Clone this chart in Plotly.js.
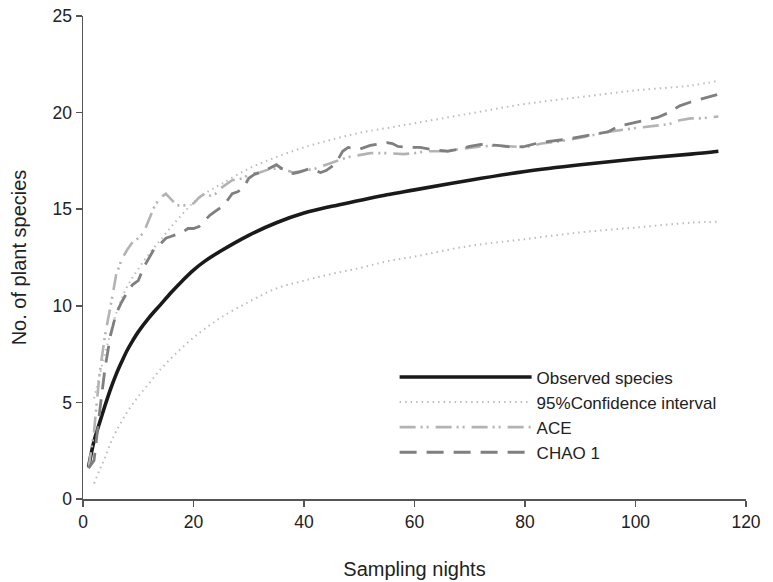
<!DOCTYPE html>
<html>
<head>
<meta charset="utf-8">
<script src="https://cdn.plot.ly/plotly-3.0.1.min.js"></script>
<style>html,body{margin:0;padding:0;background:#fff;}#chart{width:773px;height:582px;}</style>
</head>
<body>
<div id="chart"></div>
<script>
// Observed species (rarefaction curve)
var obsX = [1,2,3,4,5,6,7,8,9,10,12,14,16,18,20,22,25,30,35,40,45,50,55,60,70,80,90,100,110,115];
var obsY = [1.65,3.0,3.95,4.85,5.7,6.45,7.1,7.7,8.2,8.65,9.4,10.05,10.7,11.3,11.85,12.3,12.85,13.65,14.3,14.8,15.15,15.45,15.75,16.0,16.5,16.95,17.3,17.6,17.85,18.0];

// 95% confidence interval
var ciX = [2,3,4,5,6,8,10,12,14,16,18,20,22,25,30,35,40,45,50,55,60,70,80,90,100,110,115];
var ciUpper = [5.2,6.4,7.55,8.6,9.6,11.0,11.9,12.7,13.4,14.1,14.75,15.35,15.8,16.3,17.1,17.7,18.2,18.6,18.95,19.2,19.45,19.95,20.45,20.8,21.15,21.4,21.65];
var ciLower = [0.8,1.5,2.15,2.9,3.5,4.5,5.3,6.0,6.7,7.3,7.85,8.35,8.8,9.4,10.2,10.9,11.3,11.65,11.95,12.3,12.55,13.1,13.45,13.8,14.05,14.3,14.35];

// ACE estimator
var aceX = [1,2,3,4,5,6,7,8,9,10,11,12,13,14,15,16,17,18,19,20,21,22,23,24,25,27,29,30,32,34,36,38,40,42,44,46,48,50,52,55,58,60,62,65,68,70,72,75,78,80,83,86,90,95,100,103,106,108,110,112,115];
var aceY = [1.6,3.5,6.5,8.5,10.0,11.6,12.4,12.9,13.3,13.5,13.8,14.5,15.2,15.6,15.8,15.5,15.2,15.2,15.2,15.3,15.6,15.8,15.7,15.8,16.1,16.5,16.6,16.8,16.9,17.1,17.1,16.9,17.0,17.1,17.3,17.5,17.7,17.8,17.9,17.9,17.85,17.9,18.0,18.0,18.1,18.2,18.25,18.3,18.25,18.2,18.4,18.5,18.7,19.0,19.2,19.3,19.4,19.6,19.7,19.7,19.8];

// CHAO 1 estimator
var chaoX = [1,2,3,4,5,6,7,8,9,10,11,12,13,14,15,16,17,18,19,20,21,22,23,24,25,26,27,28,29,30,31,32,33,35,36,37,38,39,41,42,43,44,45,46,47,48,50,52,54,55,56,57,59,61,63,66,68,70,72,75,78,80,82,84,87,90,93,95,97,100,102,104,106,108,110,112,114,115];
var chaoY = [1.6,2.0,4.5,6.8,8.5,9.6,10.2,10.7,11.1,11.3,12.0,12.5,13.0,13.2,13.5,13.6,13.7,13.8,14.0,14.0,14.1,14.4,14.7,14.9,15.1,15.4,15.8,15.9,16.1,16.6,16.8,16.9,17.0,17.3,17.1,17.0,16.85,16.9,17.1,17.0,16.9,17.0,17.2,17.5,18.0,18.2,18.1,18.3,18.4,18.45,18.4,18.25,18.2,18.2,18.1,18.0,18.1,18.25,18.35,18.3,18.2,18.25,18.4,18.5,18.6,18.75,18.9,19.0,19.3,19.5,19.6,19.75,20.0,20.35,20.55,20.7,20.85,20.95];

var seriesNames = ['Observed species','95%Confidence interval','ACE','CHAO 1'];
var xTicks = [0,20,40,60,80,100,120];
var yTicks = [0,5,10,15,20,25];

var traces = [
  {x: obsX, y: obsY, name: seriesNames[0], mode: 'lines', line: {color: '#1a1a1a', width: 3.6, shape: 'spline', smoothing: 1}},
  {x: ciX, y: ciUpper, name: seriesNames[1], legendgroup: 'ci', mode: 'lines', line: {color: '#bdbdbd', width: 2, dash: '1.5px,4px', shape: 'spline'}},
  {x: ciX, y: ciLower, name: seriesNames[1], legendgroup: 'ci', showlegend: false, mode: 'lines', line: {color: '#bdbdbd', width: 2, dash: '1.5px,4px', shape: 'spline'}},
  {x: aceX, y: aceY, name: seriesNames[2], mode: 'lines', line: {color: '#b3b3b3', width: 2.6, dash: '16px,5px,2px,4px,2px,7px'}},
  {x: chaoX, y: chaoY, name: seriesNames[3], mode: 'lines', line: {color: '#7f7f7f', width: 2.8, dash: '17px,10px'}}
];

var fam = 'Liberation Sans, Arial, sans-serif';
var axisFont = {family: fam, size: 17.5, color: '#222'};
var layout = {
  width: 773, height: 582,
  margin: {l: 83, r: 27, t: 16, b: 83},
  paper_bgcolor: '#fff', plot_bgcolor: '#fff',
  showlegend: true,
  font: {family: fam, color: '#222'},
  xaxis: {
    range: [0, 120], tickvals: xTicks, ticktext: xTicks.map(String),
    showgrid: false, zeroline: false, showline: true, linecolor: '#555', linewidth: 1.5,
    ticks: 'outside', ticklen: 6, tickwidth: 1.5, tickcolor: '#555',
    tickfont: axisFont,
    title: {text: 'Sampling nights', font: {family: fam, size: 20, color: '#222'}, standoff: 31}
  },
  yaxis: {
    range: [0, 25], tickvals: yTicks, ticktext: yTicks.map(String),
    showgrid: false, zeroline: false, showline: true, linecolor: '#555', linewidth: 1.5,
    ticks: 'outside', ticklen: 6, tickwidth: 1.5, tickcolor: '#555',
    tickfont: axisFont,
    title: {text: 'No. of plant species', font: {family: fam, size: 20, color: '#222'}, standoff: 20}
  },
  legend: {
    x: 0.47, y: 0.289, xanchor: 'left', yanchor: 'top',
    bgcolor: 'rgba(0,0,0,0)', borderwidth: 0,
    itemwidth: 132, tracegroupgap: 0,
    font: {family: fam, size: 17, color: '#222'}
  }
};

Plotly.newPlot('chart', traces, layout, {displayModeBar: false, staticPlot: true});
</script>
</body>
</html>
